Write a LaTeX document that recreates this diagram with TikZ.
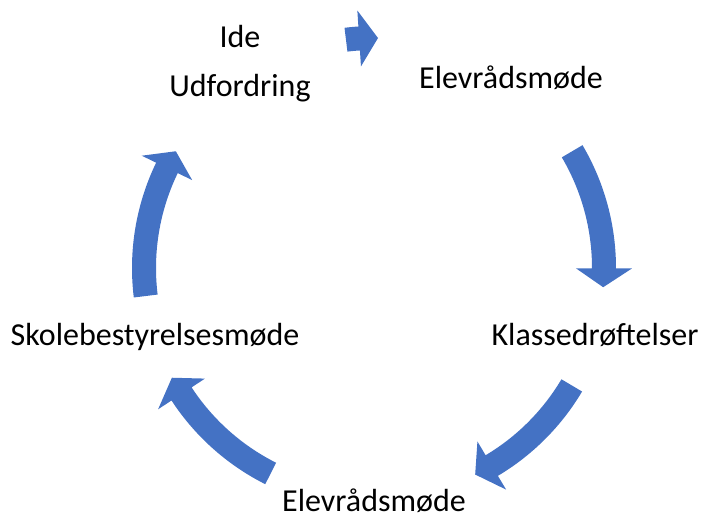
\documentclass[tikz,border=0pt]{standalone}
\usepackage{fontspec}
\setmainfont{Carlito}
\definecolor{arrowblue}{HTML}{4472C4}
\tikzset{
  lbl/.style={anchor=base, inner sep=0pt, font=\fontsize{32}{38}\selectfont, text=black},
  arrowfill/.style={fill=arrowblue}
}
% #1 tail angle, #2 tip angle (clockwise arrows)
\newcommand\cyclearrow[2]{%
  \fill[arrowfill] ([shift={({#1}:242)}]c) arc[start angle={#1}, end angle={#2+4.7}, radius=242]
    -- ([shift={({#2+4.7}:258)}]c) -- ([shift={({#2}:230)}]c) -- ([shift={({#2+4.7}:202)}]c)
    -- ([shift={({#2+4.7}:218)}]c) arc[start angle={#2+4.7}, end angle={#1}, radius=218] -- cycle;
}
\begin{document}
\begin{tikzpicture}[x=1pt,y=1pt]
\useasboundingbox (0,0) rectangle (702,518);
\coordinate (c) at (374,250);
\node[lbl] (ide) at (240,470) {Ide};
\node[lbl] (udf) at (240,421) {Udfordring};
\node[lbl] (elev1) at (511,429) {Elevrådsmøde};
\node[lbl] (klasse) at (595,172) {Klassedrøftelser};
\node[lbl] (elev2) at (374,6) {Elevrådsmøde};
\node[lbl] (skole) at (155,172) {Skolebestyrelsesmøde};
\cyclearrow{97}{89}
\cyclearrow{30.5}{-4.8}
\cyclearrow{-30.7}{-63.9}
\cyclearrow{-116.7}{-151.5}
\cyclearrow{187}{149.5}
\end{tikzpicture}
\end{document}
